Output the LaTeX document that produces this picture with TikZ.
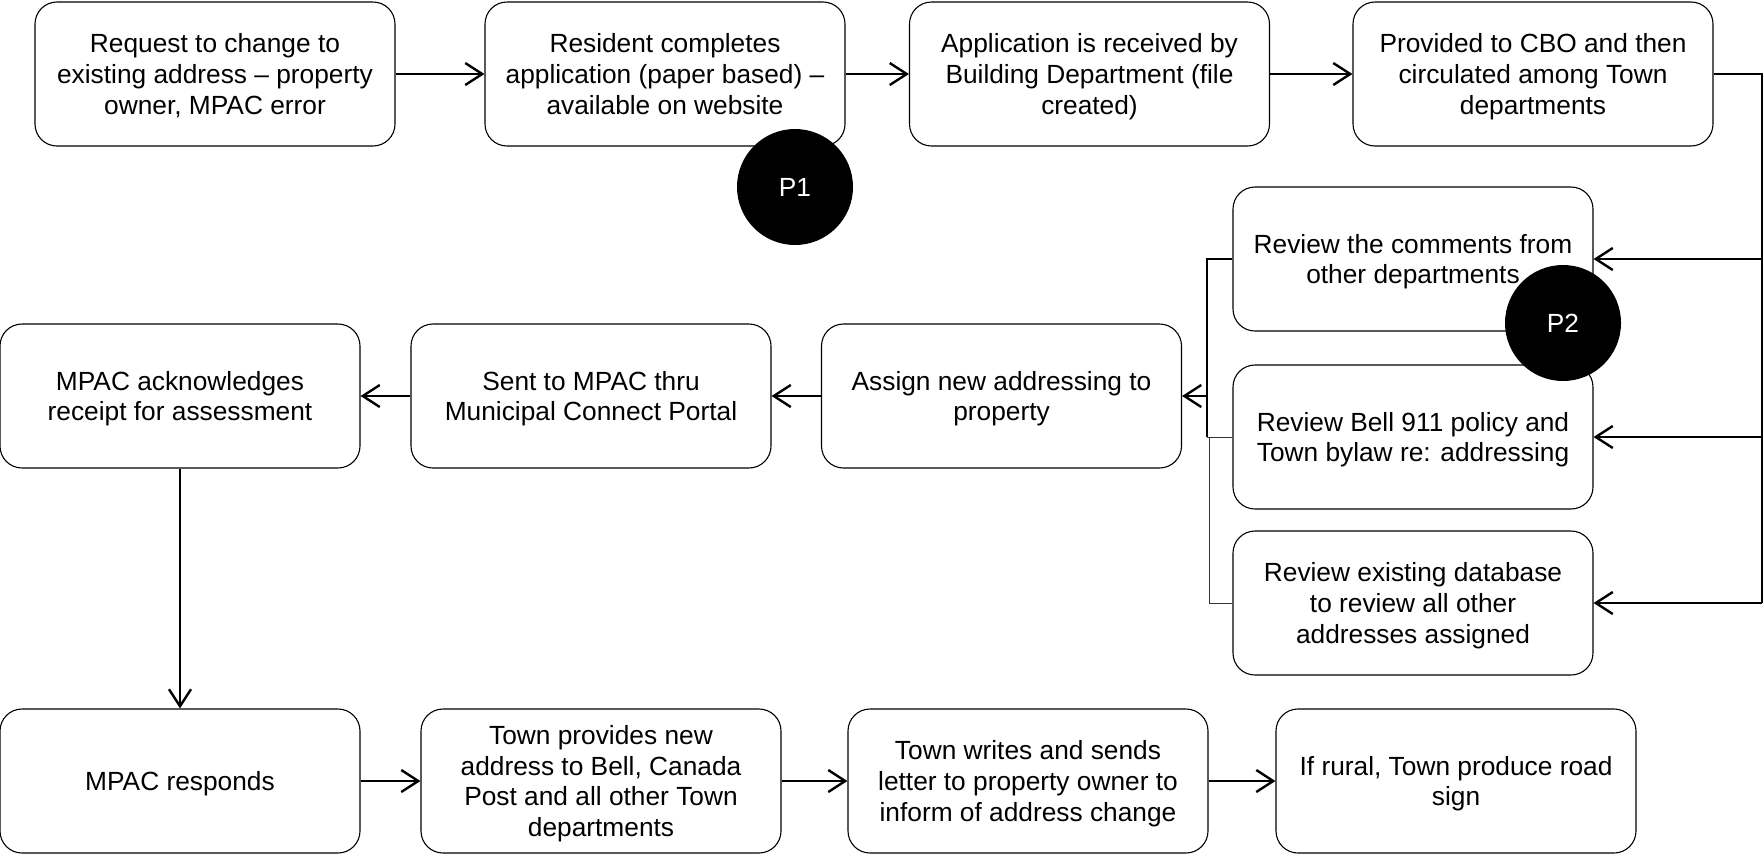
\documentclass[tikz,border=0pt]{standalone}
\usepackage{fontspec}
\setmainfont{Liberation Sans}
\usetikzlibrary{arrows.meta}
\tikzset{
  box/.style={draw=black, line width=1.1pt, rounded corners=22pt, minimum width=360pt, minimum height=144pt, align=center, inner sep=0pt, text depth=0pt, font=\fontsize{26.3}{30.8}\selectfont},
  badge/.style={circle, fill=black, minimum size=116pt, inner sep=0pt, text=white, font=\fontsize{26.3}{30.8}\selectfont},
  conn/.style={line width=2.4pt, -{Straight Barb[length=17pt,width=22pt,line width=2.4pt]}},
  thinline/.style={line width=1pt, draw=black!80},
  thickline/.style={line width=2.4pt}
}
\begin{document}
\begin{tikzpicture}[x=1pt,y=-1pt]
\useasboundingbox (0,0) rectangle (1764,855);
\node[box] (A) at (215,74) {Request to change to\\existing address -- property\\owner, MPAC error};
\node[box] (B) at (665,74) {Resident completes\\application (paper based) --\\available on website};
\node[box] (C) at (1089.5,74) {Application is received by\\Building Department (file\\created)};
\node[box] (D) at (1533,74) {Provided to CBO and then\\circulated among Town\\departments};
\node[box] (E) at (1413,259) {Review the comments from\\other departments};
\node[box] (F) at (1413,437) {Review Bell 911 policy and\\Town bylaw re: addressing};
\node[box] (G) at (1413,603) {Review existing database\\to review all other\\addresses assigned};
\node[box] (H) at (1001.5,396) {Assign new addressing to\\property};
\node[box] (I) at (591,396) {Sent to MPAC thru\\Municipal Connect Portal};
\node[box] (J) at (180,396) {MPAC acknowledges\\receipt for assessment};
\node[box] (K) at (180,781) {MPAC responds};
\node[box] (L) at (601,781) {Town provides new\\address to Bell, Canada\\Post and all other Town\\departments};
\node[box] (M) at (1028,781) {Town writes and sends\\letter to property owner to\\inform of address change};
\node[box] (N) at (1456,781) {If rural, Town produce road\\sign};

\coordinate (R) at (1762,74);
\coordinate (jx) at (1207,396);
\coordinate (jb) at (1207,437);

\draw[conn] (A) -- (B);
\draw[conn] (B) -- (C);
\draw[conn] (C) -- (D);
\draw[thickline] (D.east) -- (R) -- (R |- G.east);
\draw[conn] (R |- E.east) -- (E.east);
\draw[conn] (R |- F.east) -- (F.east);
\draw[conn] (R |- G.east) -- (G.east);

\draw[thickline] (E.west) -| (jb);
\draw[thinline] (F.west) -- (jb);
\draw[thinline] (G.west) -| ([xshift=2pt]jb);
\draw[conn] (jx) -- (H.east);
\draw[conn] (H) -- (I);
\draw[conn] (I) -- (J);
\draw[conn] (J) -- (K);
\draw[conn] (K) -- (L);
\draw[conn] (L) -- (M);
\draw[conn] (M) -- (N);

\node[badge] (P1) at (795,187) {P1};
\node[badge] (P2) at (1563,323) {P2};
\end{tikzpicture}
\end{document}
